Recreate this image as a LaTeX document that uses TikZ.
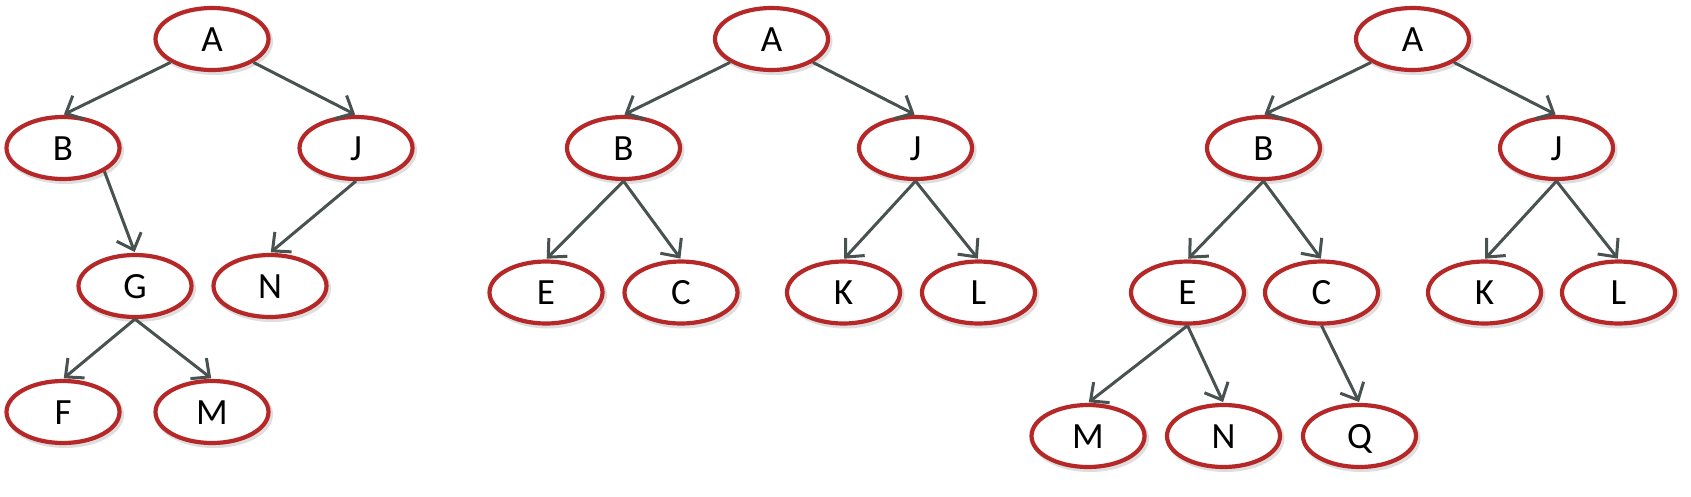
\documentclass[tikz,border=0pt]{standalone}
\usepackage{fontspec}
\setmainfont{Carlito}
\usetikzlibrary{shapes.geometric,arrows.meta}
\definecolor{ringred}{RGB}{182,40,40}
\definecolor{edgegray}{RGB}{72,82,80}
\tikzset{
  tnode/.style={ellipse, draw=ringred, line width=4.2pt, fill=white,
    minimum width=113pt, minimum height=62pt, inner sep=0pt,
    text height=24pt, text depth=0pt,
    font=\fontsize{37}{37}\selectfont,
    preaction={draw=black!13, line width=5pt, fill=none,
      transform canvas={xshift=2pt,yshift=-2.5pt}}},
  tedge/.style={draw=edgegray, line width=3pt, shorten >=1pt,
    -{Straight Barb[length=14pt,width=26pt,line width=3pt]}}
}
\begin{document}
\begin{tikzpicture}[x=1pt,y=-1pt]
\useasboundingbox (0,0) rectangle (1691,496);
% tree 1
\node[tnode] (aA) at (212,39) {A};
\node[tnode] (aB) at (63,148) {B};
\node[tnode] (aJ) at (356,148) {J};
\node[tnode] (aG) at (135,286) {G};
\node[tnode] (aN) at (270,286) {N};
\node[tnode] (aF) at (63,412) {F};
\node[tnode] (aM) at (212,412) {M};
\draw[tedge] (aA.south west) -- (aB.north);
\draw[tedge] (aA.south east) -- (aJ.north);
\draw[tedge] (aB.south east) -- (aG.north);
\draw[tedge] (aJ.south) -- (aN.north);
\draw[tedge] (aG.south) -- (aF.north);
\draw[tedge] (aG.south) -- (aM.north);
% tree 2
\node[tnode] (bA) at (771.5,39) {A};
\node[tnode] (bB) at (623.5,148) {B};
\node[tnode] (bJ) at (915.5,148) {J};
\node[tnode] (bE) at (546,292.5) {E};
\node[tnode] (bC) at (681,292.5) {C};
\node[tnode] (bK) at (843.5,292.5) {K};
\node[tnode] (bL) at (978.5,292.5) {L};
\draw[tedge] (bA.south west) -- (bB.north);
\draw[tedge] (bA.south east) -- (bJ.north);
\draw[tedge] (bB.south) -- (bE.north);
\draw[tedge] (bB.south) -- (bC.north);
\draw[tedge] (bJ.south) -- (bK.north);
\draw[tedge] (bJ.south) -- (bL.north);
% tree 3
\node[tnode] (cA) at (1412.5,39) {A};
\node[tnode] (cB) at (1263.5,148) {B};
\node[tnode] (cJ) at (1556.5,148) {J};
\node[tnode] (cE) at (1187.5,292.5) {E};
\node[tnode] (cC) at (1321.5,292.5) {C};
\node[tnode] (cK) at (1484.5,292.5) {K};
\node[tnode] (cL) at (1618.5,292.5) {L};
\node[tnode] (cM) at (1088,436) {M};
\node[tnode] (cN) at (1223.5,436) {N};
\node[tnode] (cQ) at (1359.5,436) {Q};
\draw[tedge] (cA.south west) -- (cB.north);
\draw[tedge] (cA.south east) -- (cJ.north);
\draw[tedge] (cB.south) -- (cE.north);
\draw[tedge] (cB.south) -- (cC.north);
\draw[tedge] (cJ.south) -- (cK.north);
\draw[tedge] (cJ.south) -- (cL.north);
\draw[tedge] (cE.south) -- (cM.north);
\draw[tedge] (cE.south) -- (cN.north);
\draw[tedge] (cC.south) -- (cQ.north);
\end{tikzpicture}
\end{document}
